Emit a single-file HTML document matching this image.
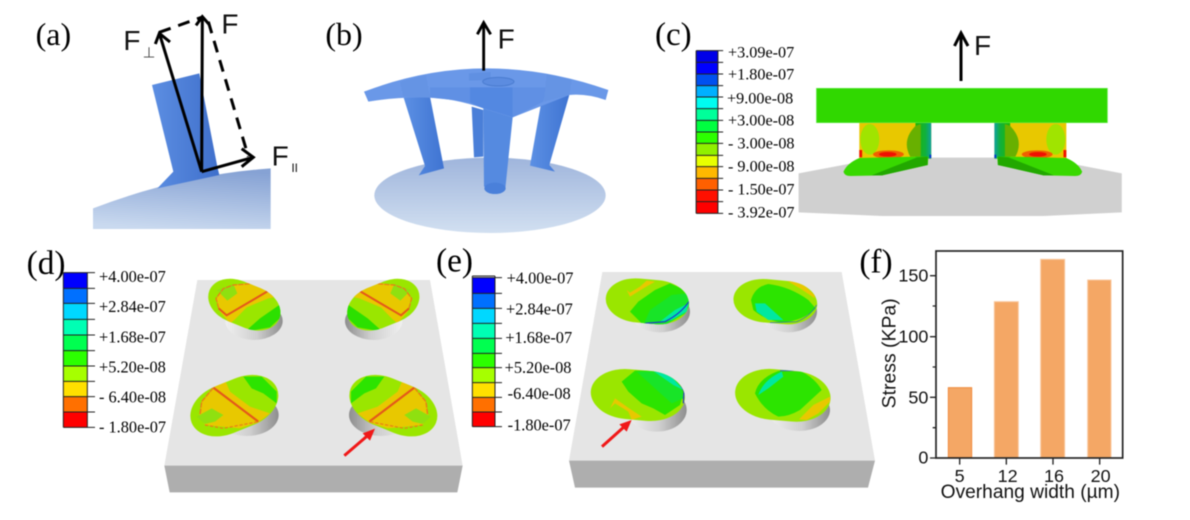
<!DOCTYPE html>
<html><head><meta charset="utf-8"><style>
html,body{margin:0;padding:0;background:#fff;width:1190px;height:520px;overflow:hidden}
svg{display:block;filter:blur(.4px)}
.s{font-family:"Liberation Serif",serif;fill:#000}
.a{font-family:"Liberation Sans",sans-serif;fill:#111}
</style></head><body>
<svg xmlns="http://www.w3.org/2000/svg" width="1190" height="520" viewBox="0 0 1190 520">
<defs>
<linearGradient id="ba" x1="0.6" y1="0" x2="0.4" y2="1"><stop offset="0" stop-color="#86a2d4"/><stop offset="1" stop-color="#c9d9ef"/></linearGradient>
<linearGradient id="pa" x1="0" y1="0" x2="1" y2="0"><stop offset="0" stop-color="#5c8ee2"/><stop offset="1" stop-color="#3f6fcb"/></linearGradient>
<linearGradient id="lg" x1="0" y1="0" x2="1" y2="0"><stop offset="0" stop-color="#5c90e4"/><stop offset="1" stop-color="#3f74d2"/></linearGradient>
<linearGradient id="db" x1="0" y1="0" x2="0" y2="1"><stop offset="0" stop-color="#9fb5dc"/><stop offset="1" stop-color="#d2e0f1"/></linearGradient>
<linearGradient id="cy" x1="0" y1="0" x2="1" y2="0"><stop offset="0" stop-color="#f0f0f0"/><stop offset=".55" stop-color="#cfcfcf"/><stop offset="1" stop-color="#8e8e8e"/></linearGradient>
<linearGradient id="ce" x1="0" y1="0" x2="1" y2="0"><stop offset="0" stop-color="#20b800"/><stop offset=".65" stop-color="#10b040"/><stop offset="1" stop-color="#10a0a0"/></linearGradient>
<clipPath id="c1"><rect x="620" y="130" width="226" height="128" rx="85" ry="64" transform="rotate(22 733 194)"/></clipPath>
<clipPath id="c3"><rect x="565" y="422" width="276" height="150" rx="105" ry="75" transform="rotate(-22 703 497)"/></clipPath>
<clipPath id="e1"><rect x="527" y="118" width="250" height="132" rx="95" ry="66" transform="rotate(5 652 184)"/></clipPath>
<clipPath id="e2"><rect x="910" y="120" width="252" height="130" rx="95" ry="65" transform="rotate(5 1036 185)"/></clipPath>
<clipPath id="e3"><rect x="482" y="390" width="283" height="150" rx="110" ry="75" transform="rotate(5 623 465)"/></clipPath>
<clipPath id="e4"><rect x="915" y="390" width="287" height="152" rx="110" ry="76" transform="rotate(5 1058 466)"/></clipPath>
<g id="d1">
<ellipse cx="762" cy="243" rx="86" ry="57" fill="url(#cy)"/>
<g clip-path="url(#c1)">
<rect x="600" y="100" width="260" height="180" fill="#9ae600"/>
<polygon points="650,175 670,145 700,135 770,125 810,150 830,170 805,175 740,202 705,238 690,250 660,215" fill="#e8c800"/>
<polygon points="650,150 700,132 712,160 682,182 665,165" fill="#8fe010"/>
<polygon points="735,275 780,235 845,190 850,225 810,262" fill="#2ce000"/>
<path d="M806,152 L680,226 L656,205" fill="none" stroke="#e4581a" stroke-width="6"/>
<path d="M656,205 L648,175 L670,146 L700,135 L770,130 L806,152" fill="none" stroke="#ea7a18" stroke-width="3.5" stroke-dasharray="16 3"/>
</g>
</g>
<g id="d3">
<ellipse cx="740" cy="525" rx="96" ry="63" fill="url(#cy)"/>
<g clip-path="url(#c3)">
<rect x="550" y="390" width="300" height="210" fill="#9ae600"/>
<polygon points="645,440 675,420 690,455 750,500 810,520 775,547 720,565 615,555 598,525 605,485" fill="#e8c800"/>
<polygon points="590,530 635,505 670,525 645,545 615,552" fill="#8fe010"/>
<polygon points="730,410 785,410 830,455 830,490 790,460 755,445" fill="#2ce400"/>
<path d="M640,443 L775,545" fill="none" stroke="#e4581a" stroke-width="6.5"/>
<path d="M640,443 L605,485 L600,525" fill="none" stroke="#ea7a18" stroke-width="4" stroke-dasharray="16 3"/>
<path d="M615,555 L670,565 L775,545" fill="none" stroke="#ea7a18" stroke-width="3.5" stroke-dasharray="10 5"/>
</g>
</g>
<g id="cp">
<rect x="625" y="368" width="205" height="108" fill="#e8c800"/>
<rect x="785" y="368" width="45" height="108" fill="url(#ce)"/>
<rect x="825" y="464" width="5" height="10" fill="#0030d0"/>
<ellipse cx="655" cy="418" rx="27" ry="46" fill="#a0e400"/>
<path d="M785,378 Q745,420 770,470 L800,470 L800,372Z" fill="#68b000"/>
<rect x="625" y="450" width="8" height="22" fill="#f01000"/>
<ellipse cx="708" cy="463" rx="44" ry="12" fill="#f06000"/>
<ellipse cx="706" cy="463" rx="25" ry="7" fill="#f01000"/>
<path d="M580,515 Q590,490 625,474 L790,470 L822,470 L820,495 L690,526 L600,528 Q582,528 580,515Z" fill="#38d800"/>
<path d="M660,526 L790,472 L820,470 L820,495 L690,526Z" fill="#22a800"/>
</g>
</defs>

<!-- a -->
<g transform="scale(.33333)">
<path d="M279,625 Q540,525 812,505 L812,687 L279,687Z" fill="url(#ba)"/>
<polygon points="456,255 598,220 652,500 658,525 472,565 520,515" fill="url(#pa)"/>
<g fill="none" stroke="#000" stroke-width="9">
<path d="M605,515 L478,100 M466,132 L478,100 L510,126"/>
<path d="M605,515 L607,50 M588,76 L607,50 L628,74"/>
<path d="M605,515 L760,472 M725,446 L760,472 L725,500"/>
<path d="M478,97 L610,50 M625,65 L745,470" stroke-dasharray="36 24"/>
</g>
<text class="s" x="107" y="135" font-size="96">(a)</text>
<text class="a" x="664" y="100" font-size="84">F</text>
<text class="a" x="370" y="150" font-size="84">F</text>
<text x="428" y="172" font-size="44" fill="#444" font-family="DejaVu Sans,sans-serif">⊥</text>
<text class="a" x="815" y="497" font-size="84">F</text>
<text class="a" x="874" y="516" font-size="36" fill="#333">II</text>
</g>

<!-- b -->
<g transform="translate(320,0) scale(.33333)">
<ellipse cx="510" cy="586" rx="347" ry="113" fill="url(#db)"/>
<polygon points="455,320 490,330 490,470 462,472" fill="#4a7fd8"/>
<polygon points="250,290 330,290 372,505 296,526 315,498" fill="url(#lg)"/>
<polygon points="665,300 748,285 688,495 705,515 630,497" fill="url(#lg)"/>
<polygon points="490,325 578,352 556,565 492,560" fill="#558ae0"/>
<ellipse cx="525" cy="565" rx="32" ry="17" fill="#4a80da"/>
<path d="M132,275 Q490,138 865,270 L857,300 Q800,280 748,285 L578,352 L490,325 Q400,295 330,293 Q230,290 145,305Z" fill="#6a98e8"/>
<polygon points="330,262 450,262 450,308 400,300 330,293" fill="#6090e4"/>
<polygon points="578,262 680,262 670,305 578,352" fill="#6090e4"/>
<polygon points="450,262 578,262 578,352 490,325 450,308" fill="#5388e1"/>
<polygon points="240,245 318,225 330,293 250,290" fill="#6594e4"/>
<polygon points="680,222 755,240 748,285 672,305" fill="#6594e4"/>
<polygon points="447,220 512,216 512,240 447,242" fill="#6090e2"/>
<ellipse cx="535" cy="245" rx="47" ry="13" fill="#5c8ce0" stroke="#4a7cd0" stroke-width="3"/>
<path d="M491,212 L491,68 M472,103 L491,68 L512,103" fill="none" stroke="#000" stroke-width="8.500"/>
<text class="s" x="16" y="135" font-size="96">(b)</text>
<text class="a" x="533" y="145" font-size="84">F</text>
</g>

<!-- c -->
<g transform="translate(640,0) scale(.35088,.33333)">
<rect x="160" y="152" width="62" height="35" fill="#0000e8"/><rect x="160" y="187" width="62" height="35" fill="#0000ff"/><rect x="160" y="222" width="62" height="35" fill="#0050f0"/><rect x="160" y="257" width="62" height="34" fill="#00b0ff"/><rect x="160" y="291" width="62" height="35" fill="#00fcf0"/><rect x="160" y="326" width="62" height="35" fill="#00ff9a"/><rect x="160" y="361" width="62" height="35" fill="#00ff40"/><rect x="160" y="396" width="62" height="34" fill="#2cff00"/><rect x="160" y="430" width="62" height="36" fill="#90f000"/><rect x="160" y="466" width="62" height="34" fill="#e8ff00"/><rect x="160" y="500" width="62" height="35" fill="#ffb800"/><rect x="160" y="535" width="62" height="35" fill="#ff6000"/><rect x="160" y="570" width="62" height="35" fill="#ff1000"/><rect x="160" y="605" width="62" height="35" fill="#ff0000"/>
<path d="M160,152H237M160,187H237M160,222H237M160,257H237M160,291H237M160,326H237M160,361H237M160,396H237M160,430H237M160,466H237M160,500H237M160,535H237M160,570H237M160,605H237M160,640H237M160,152V640M222,152V640" stroke="#222" stroke-width="3" fill="none"/>
<polygon points="452,520 690,473 1140,473 1373,520 1373,637 1150,648 690,648 452,637" fill="#d0d0d0"/>
<use href="#cp"/>
<use href="#cp" transform="translate(1840,0) scale(-1,1)"/>
<rect x="503" y="265" width="829" height="103" fill="#30d800" stroke="#5ee840" stroke-width="2"/>
</g>
<text class="s" x="655" y="45" font-size="33">(c)</text>
<g font-size="16.2">
<text class="s" x="728" y="57.5">+3.09e-07</text>
<text class="s" x="728" y="79.5">+1.80e-07</text>
<text class="s" x="727" y="103.5">+9.00e-08</text>
<text class="s" x="728" y="125.5">+3.00e-08</text>
<text class="s" x="728" y="148.5">- 3.00e-08</text>
<text class="s" x="728" y="171.5">- 9.00e-08</text>
<text class="s" x="728" y="194.5">- 1.50e-07</text>
<text class="s" x="728" y="217.5">- 3.92e-07</text>
</g>
<path d="M961,81 L961,33 M954.500,46 L961,33 L968,46" fill="none" stroke="#000" stroke-width="3"/>
<text class="a" x="974" y="55" font-size="28">F</text>

<!-- d -->
<g transform="translate(0,240) scale(.33333)">
<polygon points="592,120 1290,120 1388,677 493,677" fill="#e5e5e5"/>
<polygon points="493,677 1388,677 1372,757 509,757" fill="#aeaeae"/>
<use href="#d1"/>
<use href="#d1" transform="translate(1883,0) scale(-1,1)"/>
<use href="#d3"/>
<use href="#d3" transform="translate(1883,0) scale(-1,1)"/>
<path d="M1033,647 L1105,585" stroke="#f01818" stroke-width="9" fill="none"/>
<polygon points="1125,566 1088,580 1110,602" fill="#f01818"/>
<rect x="190" y="98" width="72" height="47" fill="#0000ff"/><rect x="190" y="145" width="72" height="45" fill="#0070ff"/><rect x="190" y="190" width="72" height="48" fill="#00d8ff"/><rect x="190" y="238" width="72" height="47" fill="#00ffb4"/><rect x="190" y="285" width="72" height="47" fill="#00ff50"/><rect x="190" y="332" width="72" height="46" fill="#2cff00"/><rect x="190" y="378" width="72" height="46" fill="#a6ff00"/><rect x="190" y="424" width="72" height="46" fill="#ffe000"/><rect x="190" y="470" width="72" height="46" fill="#ff7000"/><rect x="190" y="516" width="72" height="46" fill="#ff0000"/>
<path d="M190,98H285M190,145H285M190,190H285M190,238H285M190,285H285M190,332H285M190,378H285M190,424H285M190,470H285M190,516H285M190,562H285M190,98V562M262,98V562" stroke="#222" stroke-width="3" fill="none"/>
<text class="s" x="80" y="102" font-size="100">(d)</text>
<text class="s" x="297" y="126" font-size="49">+4.00e-07</text>
<text class="s" x="297" y="216" font-size="49">+2.84e-07</text>
<text class="s" x="297" y="308" font-size="49">+1.68e-07</text>
<text class="s" x="297" y="398" font-size="49">+5.20e-08</text>
<text class="s" x="297" y="488" font-size="49">- 6.40e-08</text>
<text class="s" x="297" y="578" font-size="49">- 1.80e-07</text>
</g>

<!-- e -->
<g transform="translate(430,240) scale(.33333)">
<polygon points="517,96 1235,96 1335,662 417,662" fill="#e5e5e5"/>
<polygon points="417,662 1335,662 1314,743 435,743" fill="#aeaeae"/>
<!-- e1 -->
<ellipse cx="690" cy="215" rx="90" ry="62" fill="url(#cy)"/>
<g clip-path="url(#e1)">
<rect x="510" y="100" width="290" height="170" fill="#9ae600"/>
<polygon points="600,215 625,185 675,150 720,130 765,150 785,180 765,220 705,255 640,255" fill="#2ce400"/>
<polygon points="640,255 660,210 725,165 770,160 785,180 765,220 705,255" fill="#18e428"/>
<polygon points="690,245 735,210 775,190 770,215 725,240" fill="#00e8a0"/>
<polygon points="590,150 600,170 640,145 675,125 650,122 630,140 600,158" fill="#e8c800"/>
<path d="M645,250 L705,245 Q755,220 780,180 L770,150" fill="none" stroke="#2030d0" stroke-width="3.500"/>
</g>
<!-- e2 -->
<ellipse cx="1075" cy="215" rx="86" ry="62" fill="url(#cy)"/>
<g clip-path="url(#e2)">
<rect x="900" y="100" width="280" height="170" fill="#9ae600"/>
<path d="M963,180 Q975,140 1015,132 Q1080,140 1135,180 L1157,205 Q1125,240 1055,248 Q1005,240 970,210Z" fill="#2ce400"/>
<polygon points="975,190 1005,190 1060,240 1015,240 980,215" fill="#00e8a0"/>
<polygon points="1070,122 1115,128 1153,165 1155,175 1110,145" fill="#e8c800"/>
<path d="M1020,248 L1100,245 Q1140,230 1160,195" fill="none" stroke="#2060d0" stroke-width="2"/>
</g>
<!-- e3 -->
<ellipse cx="680" cy="510" rx="90" ry="65" fill="url(#cy)"/>
<g clip-path="url(#e3)">
<rect x="470" y="380" width="310" height="170" fill="#9ae600"/>
<polygon points="575,425 615,392 685,392 735,410 762,455 750,495 705,525 670,505 635,490 595,455" fill="#2ce400"/>
<polygon points="620,395 695,395 755,445 760,475 725,490 675,445" fill="#18e428"/>
<polygon points="670,393 720,405 760,450 730,435" fill="#00e8a0"/>
<polygon points="540,505 555,475 590,500 635,530 605,540 595,515 555,490" fill="#e8c800"/>
<path d="M665,390 L700,392 Q745,410 762,455 L760,490" fill="none" stroke="#2030d0" stroke-width="3.500"/>
</g>
<!-- e4 -->
<ellipse cx="1107" cy="510" rx="93" ry="63" fill="url(#cy)"/>
<g clip-path="url(#e4)">
<rect x="905" y="380" width="310" height="170" fill="#9ae600"/>
<path d="M975,460 Q985,415 1045,393 L1115,395 Q1155,415 1175,450 L1110,510 Q1075,530 1045,530 Q1000,510 975,460Z" fill="#2ce400"/>
<path d="M985,465 Q1000,420 1055,395 L1060,410 L1015,445Z" fill="#00e8a0"/>
<polygon points="1107,538 1150,495 1200,470 1200,485 1165,520 1130,540" fill="#e8c800"/>
<path d="M1050,392 L1120,392" stroke="#2050d0" stroke-width="2.500" fill="none"/>
</g>
<path d="M516,620 L585,558" stroke="#f01818" stroke-width="9" fill="none"/>
<polygon points="605,540 568,553 590,575" fill="#f01818"/>
<rect x="127" y="113" width="68" height="47" fill="#0000ff"/><rect x="127" y="160" width="68" height="45" fill="#0070ff"/><rect x="127" y="205" width="68" height="45" fill="#00d8ff"/><rect x="127" y="250" width="68" height="45" fill="#00ffb4"/><rect x="127" y="295" width="68" height="45" fill="#00ff50"/><rect x="127" y="340" width="68" height="43" fill="#2cff00"/><rect x="127" y="383" width="68" height="45" fill="#a6ff00"/><rect x="127" y="428" width="68" height="44" fill="#ffe000"/><rect x="127" y="472" width="68" height="44" fill="#ff7000"/><rect x="127" y="516" width="68" height="44" fill="#ff0000"/>
<path d="M127,113H216M127,160H216M127,205H216M127,250H216M127,295H216M127,340H216M127,383H216M127,428H216M127,472H216M127,516H216M127,560H216M127,108H195M127,108V560M195,108V560" stroke="#222" stroke-width="3" fill="none"/>
<text class="s" x="18" y="95" font-size="100">(e)</text>
<text class="s" x="230" y="131" font-size="49">+4.00e-07</text>
<text class="s" x="228" y="223" font-size="49">+2.84e-07</text>
<text class="s" x="226" y="309" font-size="49">+1.68e-07</text>
<text class="s" x="224" y="399" font-size="49">+5.20e-08</text>
<text class="s" x="233" y="477" font-size="49">-6.40e-08</text>
<text class="s" x="233" y="571" font-size="49">-1.80e-07</text>
</g>

<!-- f -->
<g transform="translate(850,240) scale(.33333)">
<rect x="295" y="443" width="70" height="210" fill="#f4a765" stroke="#f08a3c" stroke-width="3"/>
<rect x="433" y="185" width="72" height="468" fill="#f4a765" stroke="#f9c9a0" stroke-width="3"/>
<rect x="572" y="58" width="72" height="595" fill="#f4a765" stroke="#f9c9a0" stroke-width="3"/>
<rect x="713" y="120" width="70" height="533" fill="#f4a765" stroke="#f9c9a0" stroke-width="3"/>
<rect x="258" y="33" width="560" height="621" fill="none" stroke="#222" stroke-width="5"/>
<path d="M240,107H258M240,290H258M240,472H258M240,654H258M248,198H258M248,381H258M248,563H258M329,654V674M469,654V674M609,654V674M749,654V674" stroke="#222" stroke-width="4" fill="none"/>
<text class="s" x="28" y="98" font-size="100">(f)</text>
<text class="a" x="235" y="124" font-size="54" text-anchor="end">150</text>
<text class="a" x="235" y="307" font-size="54" text-anchor="end">100</text>
<text class="a" x="235" y="490" font-size="54" text-anchor="end">50</text>
<text class="a" x="235" y="671" font-size="54" text-anchor="end">0</text>
<text class="a" x="329" y="726" font-size="54" text-anchor="middle">5</text>
<text class="a" x="473" y="726" font-size="54" text-anchor="middle">12</text>
<text class="a" x="612" y="726" font-size="54" text-anchor="middle">16</text>
<text class="a" x="752" y="726" font-size="54" text-anchor="middle">20</text>
<text class="a" x="272" y="774" font-size="57" textLength="538" lengthAdjust="spacingAndGlyphs">Overhang width (µm)</text>
<text class="a" transform="translate(137,505) rotate(-90)" font-size="57" textLength="330" lengthAdjust="spacingAndGlyphs">Stress (KPa)</text>
</g>
</svg>
</body></html>
